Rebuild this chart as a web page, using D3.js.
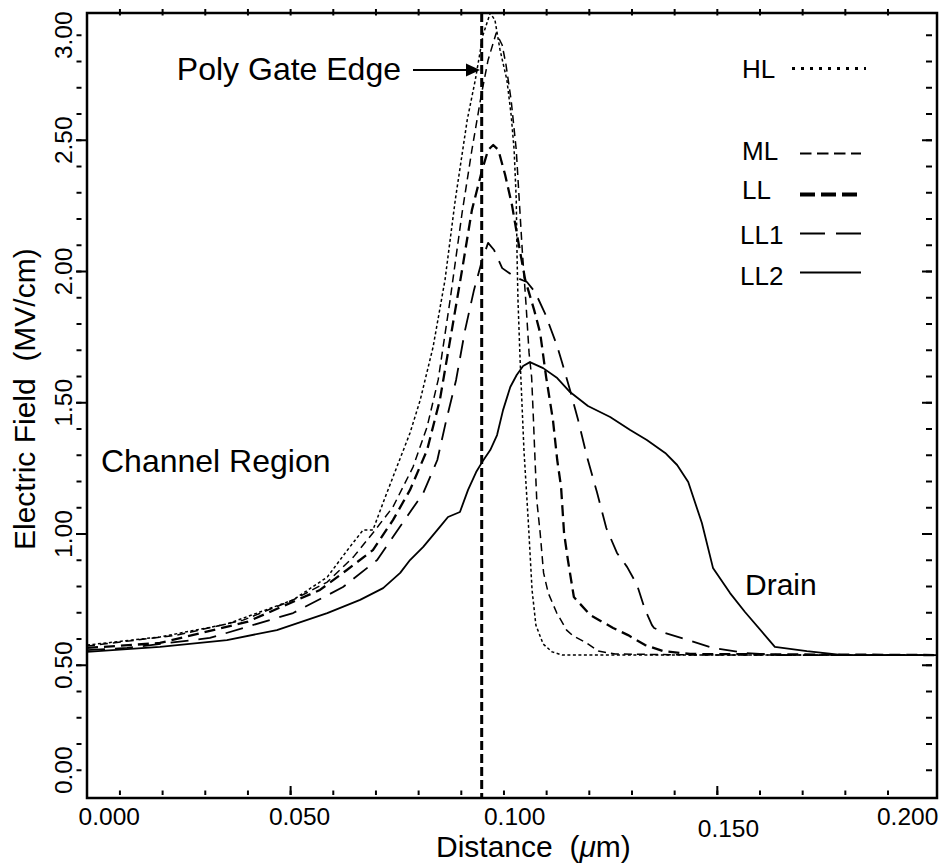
<!DOCTYPE html>
<html>
<head>
<meta charset="utf-8">
<script src="https://cdn.jsdelivr.net/npm/d3@7"></script>
<style>
  html, body { margin: 0; padding: 0; background: #fff; }
  svg text { font-family: "Liberation Sans", Arial, Helvetica, sans-serif; fill: #000; }
</style>
</head>
<body>
<svg id="chart" width="946" height="868"></svg>
<script>
// Electric field along the channel surface, [distance (µm), field (MV/cm)]
const hlField = [
  [0.0024,0.575],[0.0195,0.606],[0.0352,0.655],[0.0507,0.747],[0.0587,0.834],[0.0640,0.949],
  [0.0671,1.013],[0.0694,1.013],[0.0723,1.139],[0.0750,1.253],[0.0781,1.383],[0.0805,1.509],
  [0.0835,1.710],[0.0863,1.966],[0.0887,2.270],[0.0915,2.575],[0.0934,2.728],[0.0952,2.899],
  [0.0969,2.983],[0.0980,2.956],[0.0992,2.842],[0.1008,2.728],[0.1018,2.594],[0.1025,2.461],
  [0.1030,2.270],[0.1032,2.042],[0.1034,1.890],[0.1039,1.661],[0.1048,1.318],[0.1058,1.051],
  [0.1067,0.785],[0.1076,0.651],[0.1093,0.579],[0.1114,0.549],[0.1138,0.537],[0.2015,0.537]
];
const mlField = [
  [0.0024,0.571],[0.0235,0.613],[0.0390,0.670],[0.0507,0.747],[0.0587,0.815],[0.0648,0.910],
  [0.0694,1.002],[0.0741,1.101],[0.0788,1.253],[0.0821,1.406],[0.0847,1.585],[0.0875,1.890],
  [0.0903,2.221],[0.0926,2.461],[0.0948,2.670],[0.0964,2.804],[0.0983,2.907],[0.0997,2.861],
  [0.1006,2.785],[0.1018,2.651],[0.1030,2.461],[0.1037,2.270],[0.1044,2.080],[0.1053,1.870],
  [0.1060,1.688],[0.1066,1.596],[0.1070,1.444],[0.1074,1.280],[0.1078,1.128],[0.1086,1.002],
  [0.1094,0.850],[0.1105,0.773],[0.1125,0.697],[0.1148,0.632],[0.1163,0.610],[0.1195,0.583],
  [0.1222,0.552],[0.1262,0.541],[0.1461,0.537],[0.2015,0.537]
];
const llField = [
  [0.0024,0.564],[0.0195,0.583],[0.0399,0.663],[0.0570,0.785],[0.0633,0.861],[0.0694,0.937],
  [0.0741,1.051],[0.0781,1.166],[0.0821,1.318],[0.0851,1.509],[0.0879,1.775],[0.0903,2.004],
  [0.0926,2.232],[0.0950,2.385],[0.0964,2.461],[0.0976,2.480],[0.0988,2.461],[0.1004,2.366],
  [0.1020,2.251],[0.1034,2.118],[0.1051,1.966],[0.1072,1.851],[0.1086,1.764],[0.1100,1.596],
  [0.1116,1.432],[0.1126,1.280],[0.1135,1.177],[0.1142,1.002],[0.1151,0.899],[0.1165,0.758],
  [0.1203,0.690],[0.1257,0.640],[0.1292,0.613],[0.1332,0.575],[0.1374,0.552],[0.1437,0.541],
  [0.2015,0.537]
];
const ll1Field = [
  [0.0024,0.556],[0.0118,0.564],[0.0312,0.602],[0.0507,0.697],[0.0624,0.796],[0.0704,0.899],
  [0.0757,1.025],[0.0812,1.154],[0.0845,1.280],[0.0866,1.432],[0.0889,1.585],[0.0910,1.775],
  [0.0931,1.928],[0.0950,2.042],[0.0964,2.107],[0.0978,2.080],[0.0997,2.011],[0.1027,1.977],
  [0.1055,1.958],[0.1074,1.920],[0.1097,1.840],[0.1125,1.718],[0.1137,1.653],[0.1156,1.547],
  [0.1175,1.432],[0.1196,1.291],[0.1219,1.158],[0.1241,1.021],[0.1266,0.926],[0.1290,0.872],
  [0.1313,0.804],[0.1332,0.709],[0.1348,0.651],[0.1353,0.640],[0.1379,0.621],[0.1433,0.594],
  [0.1491,0.564],[0.1566,0.545],[0.1648,0.537],[0.2015,0.537]
];
const ll2Field = [
  [0.0024,0.549],[0.0195,0.568],[0.0352,0.594],[0.0469,0.632],[0.0587,0.697],[0.0664,0.747],
  [0.0718,0.792],[0.0758,0.850],[0.0781,0.899],[0.0812,0.949],[0.0851,1.025],[0.0870,1.063],
  [0.0898,1.082],[0.0917,1.166],[0.0936,1.234],[0.0950,1.272],[0.0969,1.318],[0.0985,1.375],
  [0.0999,1.470],[0.1016,1.558],[0.1031,1.604],[0.1046,1.638],[0.1062,1.653],[0.1093,1.630],
  [0.1126,1.592],[0.1156,1.539],[0.1198,1.486],[0.1250,1.444],[0.1297,1.394],[0.1336,1.356],
  [0.1379,1.307],[0.1407,1.261],[0.1433,1.196],[0.1465,1.040],[0.1491,0.869],[0.1531,0.773],
  [0.1566,0.701],[0.1636,0.568],[0.1711,0.552],[0.1796,0.537],[0.2015,0.537]
];

const seriesNames = ["HL", "ML", "LL", "LL1", "LL2"];
const seriesData = [hlField, mlField, llField, ll1Field, ll2Field];

// Gate edge position (µm)
const polyGateEdge = 0.0949;

// Axis ticks and labels
const xMinorTicks = d3.range(1, 20).map(i => i / 100);
const xMajorTicks = [0.05, 0.15];
const yMinorTicks = d3.range(1, 30).map(i => i / 10);
const yMajorTicks = [0.5, 1.0, 1.5, 2.0, 2.5];
const xTickLabels = ["0.000", "0.050", "0.100", "0.150", "0.200"];
const xTickLabelAt = [0.0075, 0.0521, 0.1025, 0.1526, 0.1946];
const yTickLabels = ["0.00", "0.50", "1.00", "1.50", "2.00", "2.50", "3.00"];
const yTickLabelAt = [0.1, 0.5, 1.0, 1.5, 2.0, 2.5, 2.9];

// ---- layout ----
const frame = { left: 87, right: 937, top: 13, bottom: 798 };
const x = d3.scaleLinear().domain([0.0024, 0.2016]).range([frame.left, frame.right]);
const y = d3.scaleLinear().domain([-0.0076, 2.9829]).range([frame.bottom, frame.top]);

const lineStyles = {
  HL:  { width: 1.5, dash: "3,2.5" },
  ML:  { width: 1.5, dash: "8,5" },
  LL:  { width: 2.3, dash: "11,6" },
  LL1: { width: 1.8, dash: "18,10" },
  LL2: { width: 1.8, dash: null }
};
const legendStyles = {
  HL:  { width: 3,   dash: "3,6" },
  ML:  { width: 2,   dash: "11.5,5.5" },
  LL:  { width: 4,   dash: "15,6" },
  LL1: { width: 2,   dash: "25,11" },
  LL2: { width: 2,   dash: null }
};

const svg = d3.select("#chart");

svg.append("defs").append("clipPath").attr("id", "plotClip")
  .append("rect")
  .attr("x", frame.left).attr("y", frame.top)
  .attr("width", frame.right - frame.left).attr("height", frame.bottom - frame.top);

// ---- tick marks ----
function tickGroup(axis, tx, ty, width) {
  const g = svg.append("g").attr("transform", `translate(${tx},${ty})`).call(axis);
  g.select(".domain").remove();
  g.selectAll("text").remove();
  g.selectAll("line").attr("stroke", "#000").attr("stroke-width", width);
  return g;
}
// bottom: inside, detached from the frame
tickGroup(d3.axisBottom(x).tickValues(xMinorTicks).tickSize(-4.5), 0, 795, 2);
tickGroup(d3.axisBottom(x).tickValues(xMajorTicks).tickSize(-9), 0, 795, 2);
// top: crossing the frame
tickGroup(d3.axisTop(x).tickValues(xMinorTicks).tickSize(6.5), 0, 15.5, 2);
// left: outside
tickGroup(d3.axisLeft(y).tickValues(yMinorTicks).tickSize(5), 81.5, 0, 2);
tickGroup(d3.axisLeft(y).tickValues(yMajorTicks).tickSize(11), 87, 0, 2);
// right: inside, detached from the frame
tickGroup(d3.axisRight(y).tickValues(yMinorTicks).tickSize(-6), 932, 0, 2);
tickGroup(d3.axisRight(y).tickValues(yMajorTicks).tickSize(-10), 932, 0, 2);

// ---- tick labels ----
const xLab = svg.append("g")
  .call(d3.axisBottom(x).tickValues(xTickLabelAt).tickFormat((d, i) => xTickLabels[i]).tickSize(0));
xLab.select(".domain").remove();
xLab.attr("font-family", null).attr("font-size", null);
xLab.selectAll("text")
  .attr("dy", null)
  .attr("y", (d, i) => i === 3 ? 837 : 825)
  .attr("text-anchor", "middle")
  .style("font-size", "24.5px");

const yLab = svg.append("g")
  .call(d3.axisLeft(y).tickValues(yTickLabelAt).tickFormat((d, i) => yTickLabels[i]).tickSize(0));
yLab.select(".domain").remove();
yLab.attr("font-family", null).attr("font-size", null);
yLab.selectAll("text")
  .attr("transform", "rotate(-90)")
  .attr("x", 0).attr("y", 72).attr("dy", null)
  .attr("text-anchor", "middle")
  .style("font-size", "24.5px");

// ---- axis titles ----
const xTitle = svg.append("text")
  .attr("x", 436).attr("y", 857)
  .style("font-size", "30px")
  .attr("xml:space", "preserve");
xTitle.append("tspan").text("Distance  (");
xTitle.append("tspan").style("font-style", "italic").text("\u03bc");
xTitle.append("tspan").text("m)");

svg.append("text")
  .attr("transform", "translate(35,550) rotate(-90)")
  .attr("xml:space", "preserve")
  .style("font-size", "30px")
  .text("Electric Field  (MV/cm)");

// ---- curves ----
const line = d3.line().x(d => x(d[0])).y(d => y(d[1]));
const plot = svg.append("g").attr("clip-path", "url(#plotClip)");

seriesNames.forEach((name, i) => {
  const st = lineStyles[name];
  plot.append("path")
    .datum(seriesData[i])
    .attr("d", line)
    .attr("fill", "none")
    .attr("stroke", "#000")
    .attr("stroke-width", st.width)
    .attr("stroke-dasharray", st.dash)
    .attr("stroke-linejoin", "round");
});

// gate edge marker
plot.append("line")
  .attr("x1", x(polyGateEdge)).attr("x2", x(polyGateEdge))
  .attr("y1", frame.top).attr("y2", frame.bottom)
  .attr("stroke", "#000").attr("stroke-width", 3)
  .attr("stroke-dasharray", "9,4");

// ---- frame ----
svg.append("rect")
  .attr("x", frame.left).attr("y", frame.top)
  .attr("width", frame.right - frame.left).attr("height", frame.bottom - frame.top)
  .attr("fill", "none").attr("stroke", "#000").attr("stroke-width", 2.5);

// ---- annotations ----
svg.append("text")
  .attr("x", 401).attr("y", 80).attr("text-anchor", "end")
  .style("font-size", "32px").text("Poly Gate Edge");
svg.append("line")
  .attr("x1", 413).attr("x2", 468).attr("y1", 70).attr("y2", 70)
  .attr("stroke", "#000").attr("stroke-width", 2);
svg.append("path")
  .attr("d", "M480,70 L466,63.5 L466,76.5 Z")
  .attr("fill", "#000");

svg.append("text")
  .attr("x", 101).attr("y", 472)
  .style("font-size", "32px").text("Channel Region");

svg.append("text")
  .attr("x", 745).attr("y", 595)
  .style("font-size", "30px").text("Drain");

// ---- legend ----
const legendRows = [
  { name: "HL",  textY: 78,  lineY: 68.5, x1: 792, x2: 866, textX: 742 },
  { name: "ML",  textY: 160, lineY: 153.5, x1: 800, x2: 861, textX: 742 },
  { name: "LL",  textY: 199, lineY: 194.5, x1: 800, x2: 861, textX: 742 },
  { name: "LL1", textY: 244, lineY: 233.5, x1: 800, x2: 861, textX: 740 },
  { name: "LL2", textY: 285, lineY: 272.5, x1: 800, x2: 861, textX: 740 }
];
const leg = svg.append("g");
legendRows.forEach(r => {
  const st = legendStyles[r.name];
  leg.append("text").attr("x", r.textX).attr("y", r.textY)
    .style("font-size", "26px").text(r.name);
  leg.append("line")
    .attr("x1", r.x1).attr("x2", r.x2).attr("y1", r.lineY).attr("y2", r.lineY)
    .attr("stroke", "#000").attr("stroke-width", st.width)
    .attr("stroke-dasharray", st.dash);
});
</script>
</body>
</html>
